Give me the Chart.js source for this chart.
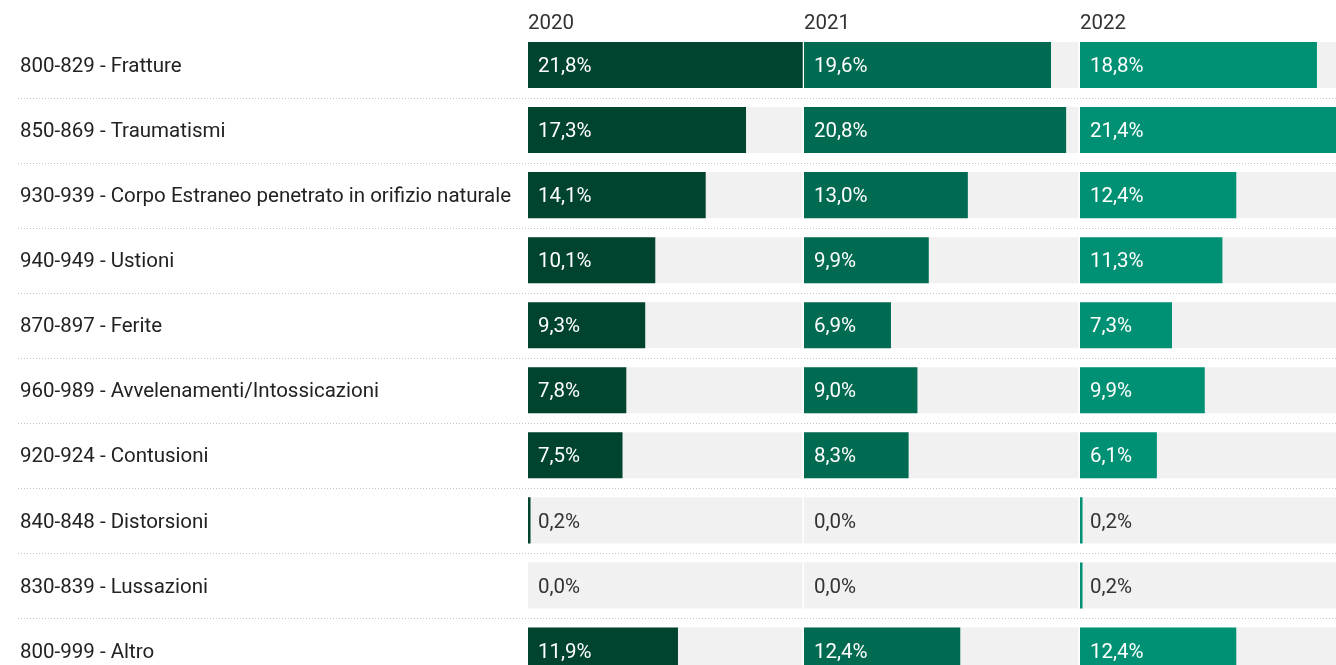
<!DOCTYPE html>
<html lang="it">
<head>
<meta charset="utf-8">
<title>Diagnosi traumatologiche 2020-2022</title>
<script src="https://cdn.jsdelivr.net/npm/chart.js@4/dist/chart.umd.min.js"></script>
<style>
  html, body { margin: 0; padding: 0; background: #fff; overflow: hidden; }
  #wrap { position: absolute; left: 0; top: 0; width: 1360px; height: 683px; }
</style>
</head>
<body>
<div id="wrap"><canvas id="traumiChart"></canvas></div>
<script>
// categorie ICD-9 e quote percentuali per anno
const categorie = [
    '800-829 - Fratture',
    '850-869 - Traumatismi',
    '930-939 - Corpo Estraneo penetrato in orifizio naturale',
    '940-949 - Ustioni',
    '870-897 - Ferite',
    '960-989 - Avvelenamenti/Intossicazioni',
    '920-924 - Contusioni',
    '840-848 - Distorsioni',
    '830-839 - Lussazioni',
    '800-999 - Altro'
];
const anni = ['2020', '2021', '2022'];
const valori2020 = [21.8, 17.3, 14.1, 10.1, 9.3, 7.8, 7.5, 0.2, 0.0, 11.9];
const valori2021 = [19.6, 20.8, 13.0, 9.9, 6.9, 9.0, 8.3, 0.0, 0.0, 12.4];
const valori2022 = [18.8, 21.4, 12.4, 11.3, 7.3, 9.9, 6.1, 0.2, 0.2, 12.4];
const colori = ['#004430', '#006b51', '#009174'];
const scalaMax = 21.9;

document.addEventListener('DOMContentLoaded', function () {
    Chart.defaults.font.family = 'Roboto, "Noto Sans", sans-serif';

    const serie = [valori2020, valori2021, valori2022];

    // binario grigio dietro ogni barra + separatori punteggiati
    const sfondoRighe = {
        id: 'sfondoRighe',
        beforeDatasetsDraw(chart) {
            const ctx = chart.ctx;
            const y = chart.scales.y;
            const meta = chart.getDatasetMeta(0);
            ctx.save();
            ctx.fillStyle = '#f1f1f1';
            anni.forEach(function (anno) {
                const sx = chart.scales['x' + anno];
                meta.data.forEach(function (el) {
                    const h = el.height;
                    ctx.fillRect(sx.left, el.y - h / 2, sx.width - 1.5, h);
                });
            });
            ctx.strokeStyle = '#c4c4c4';
            ctx.lineWidth = 1;
            ctx.setLineDash([1, 2]);
            for (let i = 0; i < categorie.length - 1; i++) {
                const yy = Math.round((y.getPixelForValue(i) + y.getPixelForValue(i + 1)) / 2) + 0.5;
                ctx.beginPath();
                ctx.moveTo(18, yy);
                ctx.lineTo(chart.width, yy);
                ctx.stroke();
            }
            ctx.restore();
        }
    };

    // etichette percentuali all'inizio di ogni barra
    const etichette = {
        id: 'etichette',
        afterDatasetsDraw(chart) {
            const ctx = chart.ctx;
            ctx.save();
            ctx.font = '20.5px Roboto, "Noto Sans", sans-serif';
            ctx.textBaseline = 'middle';
            ctx.textAlign = 'left';
            chart.data.datasets.forEach(function (ds, di) {
                const meta = chart.getDatasetMeta(di);
                meta.data.forEach(function (el, i) {
                    const v = ds.data[i];
                    const testo = v.toFixed(1).replace('.', ',') + '%';
                    const w = ctx.measureText(testo).width;
                    const larghezza = Math.abs(el.x - el.base);
                    ctx.fillStyle = larghezza > w + 14 ? '#ffffff' : '#333333';
                    ctx.fillText(testo, el.base + 10, el.y + 2);
                });
            });
            ctx.restore();
        }
    };

    const scales = {
        y: {
            type: 'category',
            position: 'left',
            grid: { display: false },
            border: { display: false },
            ticks: {
                crossAlign: 'far',
                padding: 0,
                labelOffset: 2,
                color: '#222',
                font: { size: 20.5 }
            },
            afterFit: function (s) {
                s.width = 508;
                s.paddingTop = 0;
                s.paddingBottom = 0;
            }
        }
    };
    // gli assi in alto vengono affiancati in ordine inverso di inserimento
    anni.slice().reverse().forEach(function (anno) {
        scales['x' + anno] = {
            type: 'linear',
            axis: 'x',
            position: 'top',
            stack: 'anni',
            stackWeight: 1,
            min: 0,
            max: scalaMax,
            grid: { display: false },
            border: { display: false },
            ticks: { display: false },
            title: {
                display: true,
                text: anno,
                align: 'start',
                color: '#333',
                font: { size: 20.5 },
                padding: { top: 12, bottom: 0 }
            },
            afterFit: function (s) { s.height = 32.5; }
        };
    });

    const ctx = document.getElementById('traumiChart').getContext('2d');
    new Chart(ctx, {
        type: 'bar',
        data: {
            labels: categorie,
            datasets: anni.map(function (anno, i) {
                return {
                    label: anno,
                    data: serie[i],
                    xAxisID: 'x' + anno,
                    yAxisID: 'y',
                    backgroundColor: colori[i],
                    borderWidth: 0,
                    grouped: false,
                    categoryPercentage: 1,
                    barPercentage: 0.708
                };
            })
        },
        options: {
            indexAxis: 'y',
            responsive: true,
            maintainAspectRatio: false,
            animation: false,
            layout: { padding: { left: 20, right: 4, top: 0, bottom: 0 } },
            plugins: {
                legend: { display: false },
                tooltip: { enabled: false }
            },
            scales: scales
        },
        plugins: [sfondoRighe, etichette]
    });
});
</script>
</body>
</html>
